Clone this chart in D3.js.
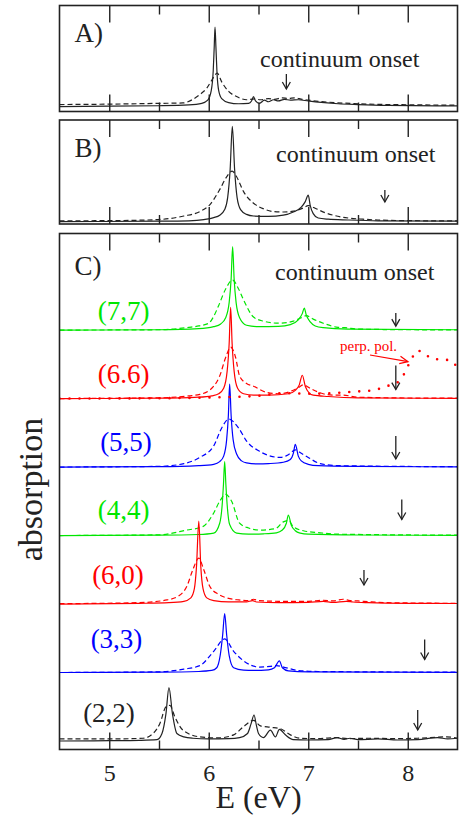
<!DOCTYPE html>
<html>
<head>
<meta charset="utf-8">
<script src="https://cdn.jsdelivr.net/npm/d3@7"></script>
<style>
  body { margin: 0; background: #fff; }
  text { font-family: "Liberation Serif", "Times New Roman", serif; }
</style>
</head>
<body>
<script>
// ---- data (energies in eV, absorption in arbitrary units) ----
const majorTicks = [5, 6, 7, 8];
const minorTicks = [5.5, 6.5, 7.5];

const aSolid = [[4.5,0],[5.0,0.005],[5.5,0.01],[5.8,0.02],[5.93,0.04],[5.99,0.08],[6.025,0.2],[6.045,0.45],[6.055,0.75],[6.063,1.0],[6.072,0.75],[6.083,0.42],[6.1,0.2],[6.13,0.1],[6.2,0.05],[6.3,0.035],[6.4,0.04],[6.43,0.07],[6.45,0.125],[6.47,0.07],[6.51,0.04],[6.56,0.08],[6.6,0.06],[6.65,0.085],[6.7,0.07],[6.76,0.09],[6.82,0.08],[6.9,0.085],[7.0,0.07],[7.1,0.055],[7.3,0.035],[7.5,0.025],[7.8,0.015],[8.5,0.008]];
const aDashed = [[4.5,0.025],[5.0,0.03],[5.5,0.04],[5.74,0.045],[5.84,0.09],[5.91,0.15],[5.98,0.23],[6.03,0.33],[6.085,0.42],[6.13,0.31],[6.2,0.19],[6.28,0.125],[6.38,0.085],[6.46,0.095],[6.52,0.085],[6.6,0.1],[6.66,0.09],[6.74,0.11],[6.8,0.1],[6.86,0.11],[6.94,0.09],[7.0,0.08],[7.2,0.055],[7.5,0.035],[8.0,0.022],[8.5,0.018]];

const bSolid = [[4.5,0],[5.5,0.005],[5.8,0.01],[5.95,0.025],[6.05,0.05],[6.11,0.08],[6.16,0.15],[6.19,0.3],[6.215,0.65],[6.237,1.19],[6.26,0.65],[6.285,0.3],[6.32,0.15],[6.38,0.09],[6.45,0.07],[6.6,0.065],[6.75,0.08],[6.85,0.12],[6.93,0.18],[6.97,0.25],[7.0,0.33],[7.02,0.2],[7.05,0.1],[7.1,0.045],[7.2,0.03],[7.4,0.02],[7.7,0.01],[8.5,0.005]];
const bDashed = [[4.5,0.01],[5.0,0.012],[5.49,0.025],[5.75,0.07],[5.91,0.125],[6.01,0.21],[6.11,0.4],[6.18,0.56],[6.235,0.63],[6.28,0.56],[6.35,0.375],[6.45,0.23],[6.55,0.16],[6.65,0.125],[6.75,0.12],[6.85,0.13],[6.95,0.17],[7.0,0.2],[7.08,0.16],[7.17,0.11],[7.25,0.08],[7.4,0.045],[7.55,0.03],[7.7,0.02],[8.0,0.012],[8.5,0.008]];

const s77Solid = [[4.5,0],[5.5,0.005],[5.9,0.02],[6.05,0.05],[6.12,0.09],[6.17,0.18],[6.205,0.4],[6.225,0.75],[6.24,1.22],[6.255,0.75],[6.275,0.4],[6.31,0.18],[6.38,0.07],[6.5,0.05],[6.7,0.055],[6.82,0.08],[6.9,0.15],[6.94,0.24],[6.96,0.32],[6.98,0.22],[7.02,0.12],[7.07,0.06],[7.15,0.035],[7.4,0.015],[8.5,0.005]];
const s77Dashed = [[4.5,0],[5.5,0.005],[5.8,0.04],[5.9,0.06],[6.0,0.1],[6.05,0.2],[6.1,0.36],[6.17,0.6],[6.24,0.73],[6.3,0.6],[6.35,0.44],[6.45,0.19],[6.55,0.13],[6.7,0.1],[6.85,0.13],[6.93,0.18],[6.98,0.21],[7.05,0.16],[7.15,0.1],[7.3,0.04],[7.37,0.035],[7.5,0.015],[8.0,0.005],[8.5,0.003]];

const s66Solid = [[4.5,0],[5.5,0.005],[5.9,0.02],[6.03,0.04],[6.1,0.07],[6.15,0.15],[6.185,0.4],[6.205,0.8],[6.22,1.33],[6.235,0.8],[6.255,0.4],[6.29,0.15],[6.35,0.07],[6.45,0.05],[6.6,0.05],[6.8,0.07],[6.87,0.12],[6.91,0.2],[6.94,0.34],[6.97,0.18],[7.01,0.08],[7.05,0.05],[7.2,0.03],[7.5,0.01],[8.5,0.003]];
const s66Dashed = [[4.5,0],[5.5,0.01],[5.8,0.04],[5.91,0.06],[6.05,0.18],[6.11,0.33],[6.17,0.6],[6.22,0.75],[6.27,0.6],[6.31,0.33],[6.38,0.22],[6.45,0.18],[6.58,0.09],[6.7,0.07],[6.83,0.11],[6.9,0.16],[6.95,0.2],[7.03,0.14],[7.15,0.07],[7.25,0.05],[7.35,0.05],[7.5,0.02],[8.0,0.008],[8.5,0.005]];
const s66Perp = [[4.5,0],[5.5,0.005],[6.0,0.015],[6.5,0.04],[6.75,0.08],[7.0,0.07],[7.24,0.08],[7.45,0.1],[7.67,0.125],[7.77,0.175],[7.89,0.23],[7.96,0.35],[8.0,0.47],[8.04,0.58],[8.09,0.7],[8.17,0.66],[8.24,0.58],[8.34,0.57],[8.42,0.56],[8.5,0.45]];

const s55Solid = [[4.5,0],[5.5,0.005],[5.9,0.02],[6.05,0.04],[6.11,0.08],[6.15,0.16],[6.18,0.4],[6.197,0.75],[6.21,1.21],[6.225,0.75],[6.245,0.4],[6.28,0.19],[6.33,0.09],[6.38,0.06],[6.5,0.045],[6.6,0.05],[6.75,0.07],[6.82,0.11],[6.85,0.2],[6.87,0.33],[6.9,0.16],[6.93,0.09],[7.0,0.04],[7.1,0.02],[7.5,0.01],[8.5,0.003]];
const s55Dashed = [[4.5,0],[5.5,0.01],[5.75,0.05],[5.91,0.14],[6.05,0.31],[6.13,0.57],[6.2,0.7],[6.3,0.57],[6.38,0.38],[6.51,0.23],[6.62,0.16],[6.72,0.14],[6.8,0.18],[6.87,0.25],[6.93,0.2],[7.0,0.14],[7.12,0.05],[7.3,0.02],[8.5,0.005]];

const s44Solid = [[4.5,0],[5.5,0.005],[5.9,0.015],[6.05,0.035],[6.11,0.18],[6.135,0.45],[6.148,0.75],[6.16,1.08],[6.172,0.75],[6.185,0.45],[6.21,0.16],[6.28,0.035],[6.4,0.02],[6.55,0.025],[6.68,0.04],[6.74,0.08],[6.78,0.18],[6.8,0.3],[6.83,0.15],[6.87,0.07],[6.92,0.035],[7.0,0.02],[7.5,0.008],[8.5,0.003]];
const s44Dashed = [[4.5,0],[5.5,0.01],[5.78,0.08],[5.94,0.13],[6.05,0.33],[6.11,0.5],[6.17,0.6],[6.23,0.5],[6.31,0.18],[6.4,0.11],[6.51,0.08],[6.67,0.1],[6.75,0.2],[6.8,0.22],[6.85,0.13],[6.95,0.07],[7.12,0.04],[7.3,0.02],[8.5,0.005]];

const s60Solid = [[4.5,0],[5.3,0.01],[5.6,0.02],[5.75,0.04],[5.82,0.09],[5.855,0.22],[5.877,0.55],[5.9,1.21],[5.92,0.55],[5.943,0.22],[5.98,0.09],[6.05,0.05],[6.2,0.03],[6.38,0.03],[6.44,0.05],[6.48,0.03],[6.7,0.02],[7.0,0.025],[7.15,0.04],[7.25,0.025],[7.38,0.04],[7.45,0.03],[7.6,0.02],[8.0,0.01],[8.5,0.008]];
const s60Dashed = [[4.5,0.005],[5.3,0.02],[5.58,0.06],[5.7,0.12],[5.78,0.26],[5.84,0.5],[5.9,0.67],[5.95,0.5],[6.01,0.26],[6.1,0.14],[6.18,0.09],[6.3,0.06],[6.4,0.05],[6.45,0.07],[6.5,0.05],[6.7,0.04],[7.0,0.04],[7.15,0.055],[7.25,0.045],[7.35,0.07],[7.42,0.05],[7.5,0.045],[7.6,0.035],[7.8,0.02],[8.5,0.01]];

const s33Solid = [[4.5,0],[5.5,0.005],[5.9,0.015],[6.03,0.03],[6.08,0.07],[6.115,0.25],[6.14,0.55],[6.16,0.86],[6.18,0.55],[6.205,0.25],[6.25,0.07],[6.35,0.035],[6.45,0.03],[6.6,0.04],[6.66,0.07],[6.71,0.17],[6.74,0.07],[6.8,0.025],[7.0,0.01],[8.5,0.003]];
const s33Dashed = [[4.5,0],[5.5,0.01],[5.75,0.05],[5.91,0.1],[6.05,0.31],[6.16,0.49],[6.25,0.31],[6.35,0.17],[6.51,0.08],[6.62,0.09],[6.68,0.1],[6.75,0.08],[6.9,0.03],[7.1,0.015],[8.5,0.005]];

const s22Solid = [[4.5,0],[5.0,0.005],[5.3,0.01],[5.48,0.02],[5.53,0.11],[5.57,0.4],[5.6,0.78],[5.635,0.4],[5.68,0.11],[5.75,0.06],[5.84,0.04],[6.0,0.03],[6.2,0.035],[6.31,0.05],[6.39,0.11],[6.425,0.25],[6.455,0.38],[6.48,0.22],[6.5,0.11],[6.55,0.05],[6.62,0.16],[6.67,0.06],[6.71,0.17],[6.77,0.09],[6.85,0.02],[7.0,0.015],[7.2,0.02],[7.29,0.05],[7.36,0.025],[7.42,0.04],[7.5,0.02],[7.7,0.03],[7.9,0.015],[8.1,0.02],[8.3,0.05],[8.4,0.03],[8.5,0.04]];
const s22Dashed = [[4.5,0.03],[5.0,0.03],[5.34,0.04],[5.44,0.11],[5.51,0.26],[5.57,0.5],[5.61,0.52],[5.66,0.35],[5.74,0.16],[5.91,0.06],[6.1,0.045],[6.25,0.09],[6.35,0.21],[6.45,0.3],[6.52,0.22],[6.62,0.2],[6.72,0.18],[6.82,0.09],[6.92,0.04],[7.1,0.035],[7.29,0.05],[7.4,0.035],[7.6,0.04],[7.9,0.035],[8.1,0.04],[8.39,0.06],[8.5,0.04]];

const tubeNames = ['(7,7)', '(6.6)', '(5,5)', '(4,4)', '(6,0)', '(3,3)', '(2,2)'];
const tubeOffsets = [6, 5, 4, 3, 2, 1, 0];
const onsetA = 6.78;
const onsetB = 7.77;
const onsetC = [7.88, 7.88, 7.88, 7.94, 7.56, 8.17, 8.10];

// ---- layout ----
const width = 462;
const height = 817;
const green = '#00e600';
const red = '#ff0000';
const blue = '#0000ff';

const tubes = tubeNames.map((name, i) => ({
  name,
  offset: tubeOffsets[i],
  onset: onsetC[i],
  color: [green, red, blue, green, red, blue, '#222'][i],
  solid: [s77Solid, s66Solid, s55Solid, s44Solid, s60Solid, s33Solid, s22Solid][i],
  dashed: [s77Dashed, s66Dashed, s55Dashed, s44Dashed, s60Dashed, s33Dashed, s22Dashed][i],
  labelX: [123.7, 123.7, 126, 123.7, 118, 116.5, 109][i],
  labelDy: [-10, -16, -16, -17, -20, -25, -19][i],
  arrow: [[-17, -4], [-33, -9], [-31, -8], [-36, -16], [-34, -19], [-33, -13], [-31, -11]][i],
}));

const x = d3.scaleLinear().domain([4.5, 8.5]).range([59.5, 457.5]);

const panels = [
  { label: 'A)', top: 5.5, bottom: 111.5, y: d3.scaleLinear().domain([-0.0625, 1.27]).range([111.5, 5.5]), labelY: 42, onsetX: 260, onsetY: 67 },
  { label: 'B)', top: 120, bottom: 224, y: d3.scaleLinear().domain([-0.03, 1.27]).range([224, 120]), labelY: 157, onsetX: 276, onsetY: 162 },
  { label: 'C)', top: 233.5, bottom: 749.5, y: d3.scaleLinear().domain([-0.124, 7.41]).range([749.5, 233.5]), labelY: 275, onsetX: 275, onsetY: 280 },
];

const svg = d3.select('body').append('svg')
  .attr('width', width)
  .attr('height', height)
  .attr('viewBox', [0, 0, width, height]);

const curve = (y, offset) => d3.line()
  .x((d) => x(d[0]))
  .y((d) => y(d[1] + offset))
  .curve(d3.curveMonotoneX);

const arrowDown = (g, xp, y1, y2, color) => {
  g.append('line')
    .attr('x1', xp).attr('x2', xp).attr('y1', y1).attr('y2', y2)
    .attr('stroke', color).attr('stroke-width', 1.3);
  g.append('path')
    .attr('d', `M${xp - 4},${y2 - 7}L${xp},${y2}L${xp + 4},${y2 - 7}`)
    .attr('fill', 'none').attr('stroke', color).attr('stroke-width', 1.3);
};

const plotSpectrum = (g, y, offset, solid, dashed, color) => {
  g.append('path')
    .datum(dashed)
    .attr('d', curve(y, offset))
    .attr('fill', 'none')
    .attr('stroke', color)
    .attr('stroke-width', 1.2)
    .attr('stroke-dasharray', '5,3');
  g.append('path')
    .datum(solid)
    .attr('d', curve(y, offset))
    .attr('fill', 'none')
    .attr('stroke', color)
    .attr('stroke-width', 1.2);
};

/* CURVES */

const clip = svg.append('defs');
panels.forEach((p, i) => {
  clip.append('clipPath').attr('id', `clip${i}`)
    .append('rect')
    .attr('x', x(4.5)).attr('y', p.top)
    .attr('width', x(8.5) - x(4.5)).attr('height', p.bottom - p.top);
});

const gA = svg.append('g').attr('clip-path', 'url(#clip0)');
plotSpectrum(gA, panels[0].y, 0, aSolid, aDashed, '#222');

const gB = svg.append('g').attr('clip-path', 'url(#clip1)');
plotSpectrum(gB, panels[1].y, 0, bSolid, bDashed, '#222');

const gC = svg.append('g').attr('clip-path', 'url(#clip2)');
tubes.forEach((t) => {
  plotSpectrum(gC, panels[2].y, t.offset, t.solid, t.dashed, t.color);
});

gC.append('path')
  .datum(s66Perp)
  .attr('d', curve(panels[2].y, 5))
  .attr('fill', 'none')
  .attr('stroke', red)
  .attr('stroke-width', 2.6)
  .attr('stroke-linecap', 'round')
  .attr('stroke-dasharray', '0,10');

/* FRAMES & TICKS */

panels.forEach((p) => {
  const g = svg.append('g');
  g.append('rect')
    .attr('x', x(4.5)).attr('y', p.top)
    .attr('width', x(8.5) - x(4.5)).attr('height', p.bottom - p.top)
    .attr('fill', 'none').attr('stroke', '#222').attr('stroke-width', 1.6);

  g.append('g')
    .attr('transform', `translate(0,${p.top})`)
    .call(d3.axisBottom(x).tickValues(majorTicks).tickSize(17).tickFormat(''))
    .call((a) => a.select('.domain').remove());
  g.append('g')
    .attr('transform', `translate(0,${p.top})`)
    .call(d3.axisBottom(x).tickValues(minorTicks).tickSize(9).tickFormat(''))
    .call((a) => a.select('.domain').remove());
  g.append('g')
    .attr('transform', `translate(0,${p.bottom})`)
    .call(d3.axisTop(x).tickValues(majorTicks).tickSize(17).tickFormat(''))
    .call((a) => a.select('.domain').remove());
  g.append('g')
    .attr('transform', `translate(0,${p.bottom})`)
    .call(d3.axisTop(x).tickValues(minorTicks).tickSize(9).tickFormat(''))
    .call((a) => a.select('.domain').remove());
  g.selectAll('.tick line').attr('stroke', '#222').attr('stroke-width', 1.4);

  g.append('text')
    .attr('x', x(4.5) + 15)
    .attr('y', p.labelY)
    .attr('font-size', 27)
    .attr('fill', '#222')
    .text(p.label);

  g.append('text')
    .attr('x', p.onsetX)
    .attr('y', p.onsetY)
    .attr('font-size', 24)
    .attr('fill', '#222')
    .text('continuum onset');
});

/* ONSET ARROWS & LABELS */

arrowDown(svg, x(onsetA), 74, 89, '#222');
arrowDown(svg, x(onsetB), 190, 202, '#222');

tubes.forEach((t) => {
  const base = panels[2].y(t.offset);
  arrowDown(svg, x(t.onset), base + t.arrow[0], base + t.arrow[1], '#222');
  svg.append('text')
    .attr('x', t.labelX)
    .attr('y', base + t.labelDy)
    .attr('text-anchor', 'middle')
    .attr('font-size', 27)
    .attr('fill', t.color)
    .text(t.name);
});

svg.append('text')
  .attr('x', 340)
  .attr('y', 351)
  .attr('font-size', 15)
  .attr('fill', red)
  .text('perp. pol.');
svg.append('line')
  .attr('x1', 370).attr('y1', 355).attr('x2', 408).attr('y2', 361.7)
  .attr('stroke', red).attr('stroke-width', 1.2);
svg.append('path')
  .attr('d', 'M400.5,356.3L408,361.7L399.2,363.7')
  .attr('fill', 'none').attr('stroke', red).attr('stroke-width', 1.2);

/* AXIS LABELS */

svg.append('g')
  .attr('transform', `translate(0,${panels[2].bottom})`)
  .call(d3.axisBottom(x).tickValues(majorTicks).tickSize(0).tickPadding(14).tickFormat(d3.format('d')))
  .call((a) => a.select('.domain').remove())
  .call((a) => a.selectAll('text')
    .attr('font-size', 24)
    .attr('font-family', '"Liberation Serif", serif')
    .attr('fill', '#222'));

svg.append('text')
  .attr('x', (x(4.5) + x(8.5)) / 2)
  .attr('y', 808)
  .attr('text-anchor', 'middle')
  .attr('font-size', 32)
  .attr('fill', '#222')
  .text('E (eV)');

svg.append('text')
  .attr('transform', `translate(41.5,${489.5}) rotate(-90)`)
  .attr('text-anchor', 'middle')
  .attr('font-size', 34)
  .attr('fill', '#222')
  .text('absorption');
</script>
</body>
</html>
